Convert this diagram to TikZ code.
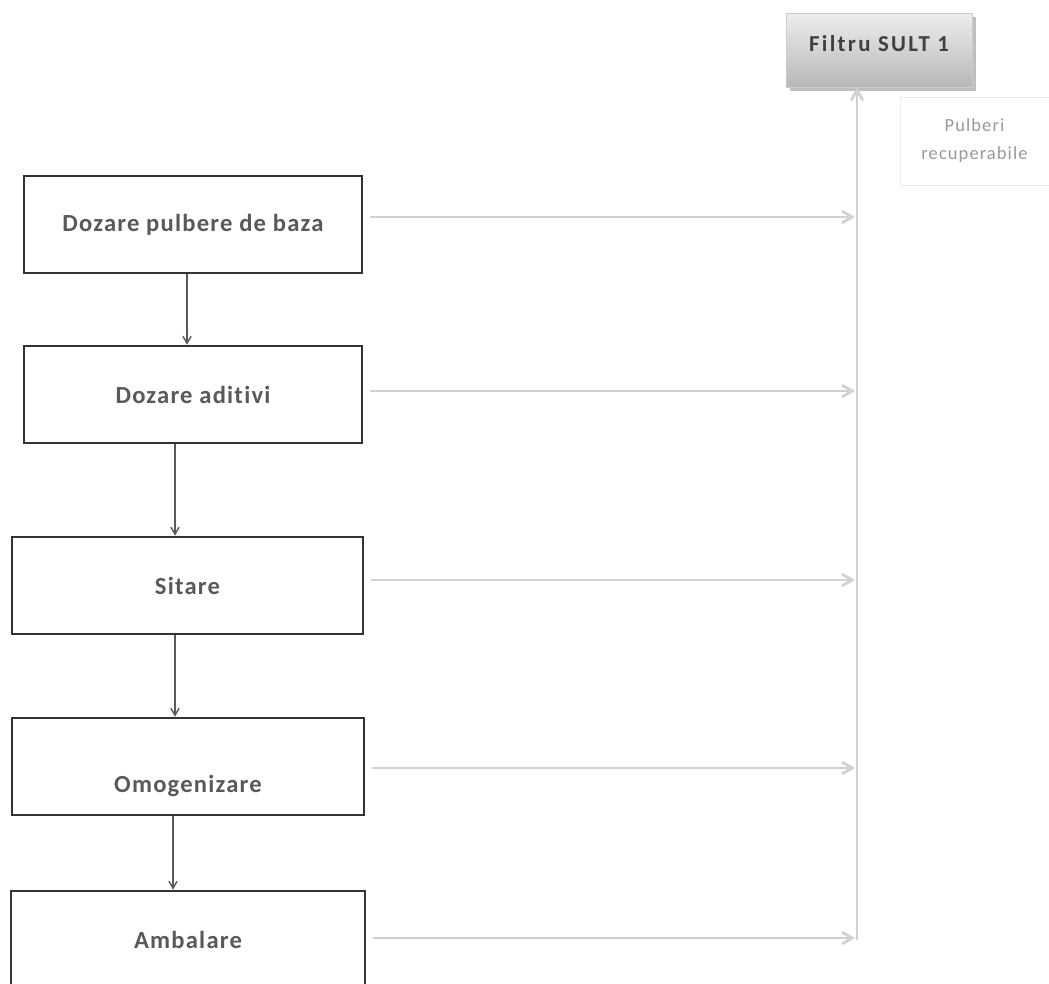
\documentclass[tikz,border=0pt]{standalone}
\usepackage{fontspec}
\setmainfont[Ligatures=NoCommon]{Carlito}
\usetikzlibrary{arrows,shadows}

\begin{document}
\begin{tikzpicture}[
    x=0.02cm, y=-0.02cm,
    stage/.style={draw=black!80, line width=1.5pt, fill=white,
        minimum width=6.76cm, minimum height=1.94cm, inner sep=0pt,
        text=black!65,
        font=\bfseries\fontsize{14}{16}\selectfont\addfontfeature{LetterSpace=5}},
    flow/.style={->, >=angle 60, black!65, line width=0.8pt},
    feed/.style={->, >=angle 60, black!18, line width=1.6pt,
        shorten <=4pt},
    filter/.style={draw=black!20, top color=black!7, bottom color=black!28,
        minimum width=3.72cm, minimum height=1.48cm, drop shadow,
        text=black!75,
        font=\bfseries\fontsize{13}{15}\selectfont\addfontfeature{LetterSpace=10}},
    note/.style={draw=black!8, fill=white, minimum width=2.98cm,
        minimum height=1.76cm, align=center, text=black!40,
        font=\fontsize{10.5}{16}\selectfont\addfontfeature{LetterSpace=6}}
    ]
    \useasboundingbox (0,0) rectangle (1049,984);
    % process steps
    \node[stage] (dozb) at (193,224.5) {Dozare pulbere de baza};
    \node[stage] (doza) at (193,394.5) {Dozare aditivi};
    \node[stage, minimum width=7.02cm] (sit) at (187.5,585.5) {Sitare};
    \node[stage, minimum width=7.04cm, text height=1.25cm, text depth=0.2cm]
        (omog) at (188,766.5) {Omogenizare};
    \node[stage, minimum width=7.08cm] (amb) at (188,939.5) {Ambalare};
    % filter and recovered powder
    \node[filter] (filt) at (879,50) {\raisebox{0.25cm}{Filtru SULT 1}};
    \node[note] (pulb) at (974.5,141) {Pulberi\\recuperabile};
    % collector line
    \coordinate (c1) at (855,217);
    \coordinate (c2) at (855,391);
    \coordinate (c3) at (855,580);
    \coordinate (c4) at (855,768);
    \coordinate (c5) at (855,938);
    \coordinate (cbot) at (857,940);
    \draw[feed, shorten <=0pt] (cbot) -- (cbot |- filt.south);
    % flow down
    \draw[flow] ([xshift=-0.12cm]dozb.south) -- ([xshift=-0.12cm]dozb.south |- doza.north);
    \draw[flow] ([xshift=-0.36cm]doza.south) -- ([xshift=-0.36cm]doza.south |- sit.north);
    \draw[flow] ([xshift=-0.25cm]sit.south) -- ([xshift=-0.25cm]sit.south |- omog.north);
    \draw[flow] ([xshift=-0.3cm]omog.south) -- ([xshift=-0.3cm]omog.south |- amb.north);
    % dust to the filter
    \draw[feed] (dozb.east |- c1) -- (c1);
    \draw[feed] (doza.east |- c2) -- (c2);
    \draw[feed] (sit.east |- c3) -- (c3);
    \draw[feed] (omog.east |- c4) -- (c4);
    \draw[feed] (amb.east |- c5) -- (c5);
\end{tikzpicture}
\end{document}
